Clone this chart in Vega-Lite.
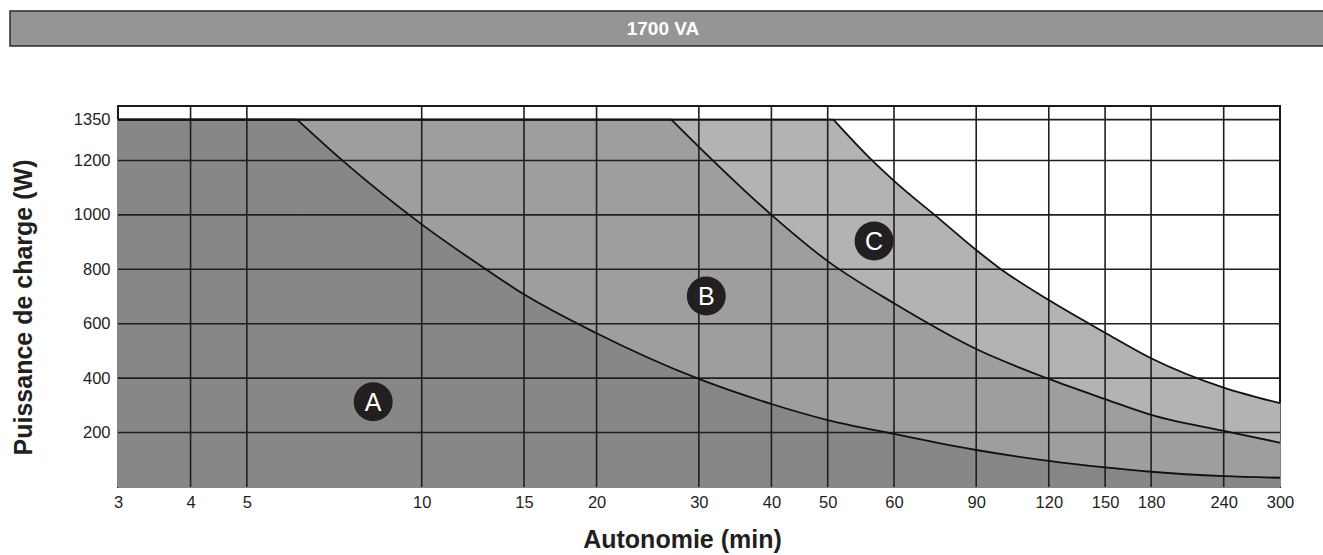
{
  "$schema": "https://vega.github.io/schema/vega-lite/v6.json",
  "padding": {"left": 9, "top": 10, "right": 0, "bottom": 0},
  "background": "white",
  "config": {
    "font": "Liberation Sans",
    "view": {"stroke": null},
    "axisX": {"labelFontSize": 16.5, "labelColor": "#231f20", "labelFont": "Liberation Sans", "titleFont": "Liberation Sans", "titleColor": "#231f20"},
    "axisY": {"labelFontSize": 16.5, "labelColor": "#231f20", "labelFont": "Liberation Sans", "titleFont": "Liberation Sans", "titleColor": "#231f20"}
  },
  "datasets": {
    "curves": [
      {"curve": "A", "seg": "A0", "t": 3, "p": 1350},
      {"curve": "A", "seg": "A0", "t": 6.1, "p": 1350},
      {"curve": "A", "seg": "A1", "t": 6.1, "p": 1350},
      {"curve": "A", "seg": "A1", "t": 7.3, "p": 1200},
      {"curve": "A", "seg": "A1", "t": 10, "p": 965},
      {"curve": "A", "seg": "A1", "t": 12.9, "p": 800},
      {"curve": "A", "seg": "A1", "t": 15, "p": 708},
      {"curve": "A", "seg": "A1", "t": 20, "p": 565},
      {"curve": "A", "seg": "A1", "t": 30, "p": 397},
      {"curve": "A", "seg": "A1", "t": 40, "p": 305},
      {"curve": "A", "seg": "A1", "t": 50, "p": 246},
      {"curve": "A", "seg": "A1", "t": 60, "p": 195},
      {"curve": "A", "seg": "A1", "t": 90, "p": 136},
      {"curve": "A", "seg": "A1", "t": 120, "p": 96},
      {"curve": "A", "seg": "A1", "t": 150, "p": 72},
      {"curve": "A", "seg": "A1", "t": 180, "p": 56},
      {"curve": "A", "seg": "A1", "t": 240, "p": 40},
      {"curve": "A", "seg": "A1", "t": 300, "p": 34},
      {"curve": "B", "seg": "B0", "t": 3, "p": 1350},
      {"curve": "B", "seg": "B0", "t": 26.9, "p": 1350},
      {"curve": "B", "seg": "B1", "t": 26.9, "p": 1350},
      {"curve": "B", "seg": "B1", "t": 30, "p": 1250},
      {"curve": "B", "seg": "B1", "t": 40, "p": 1000},
      {"curve": "B", "seg": "B1", "t": 50, "p": 830},
      {"curve": "B", "seg": "B1", "t": 60, "p": 675},
      {"curve": "B", "seg": "B1", "t": 90, "p": 507},
      {"curve": "B", "seg": "B1", "t": 120, "p": 397},
      {"curve": "B", "seg": "B1", "t": 150, "p": 323},
      {"curve": "B", "seg": "B1", "t": 180, "p": 265},
      {"curve": "B", "seg": "B1", "t": 240, "p": 206},
      {"curve": "B", "seg": "B1", "t": 300, "p": 163},
      {"curve": "C", "seg": "C0", "t": 3, "p": 1350},
      {"curve": "C", "seg": "C0", "t": 50.8, "p": 1350},
      {"curve": "C", "seg": "C1", "t": 50.8, "p": 1350},
      {"curve": "C", "seg": "C1", "t": 56.5, "p": 1200},
      {"curve": "C", "seg": "C1", "t": 60, "p": 1125},
      {"curve": "C", "seg": "C1", "t": 75.8, "p": 979},
      {"curve": "C", "seg": "C1", "t": 90, "p": 871},
      {"curve": "C", "seg": "C1", "t": 98.6, "p": 805},
      {"curve": "C", "seg": "C1", "t": 120, "p": 687},
      {"curve": "C", "seg": "C1", "t": 150, "p": 567},
      {"curve": "C", "seg": "C1", "t": 180, "p": 473},
      {"curve": "C", "seg": "C1", "t": 240, "p": 365},
      {"curve": "C", "seg": "C1", "t": 300, "p": 308}
    ],
    "zones": [
      {"label": "A", "t": 8.25, "p": 313},
      {"label": "B", "t": 30.9, "p": 702},
      {"label": "C", "t": 56.8, "p": 904}
    ]
  },
  "spacing": 57,
  "vconcat": [
    {
      "width": 1320,
      "height": 35,
      "view": {"fill": "#959597", "stroke": "#2b2b2b", "strokeWidth": 1.5},
      "data": {"values": [{"title": "1700 VA"}]},
      "mark": {"type": "text", "font": "Liberation Sans", "fontWeight": "bold", "fontSize": 19, "color": "white", "dx": -7},
      "encoding": {"text": {"field": "title"}}
    },
    {
      "spacing": 34,
      "hconcat": [
        {
          "width": 28,
          "height": 381,
          "data": {"values": [{"title": "Puissance de charge (W)"}]},
          "mark": {"type": "text", "font": "Liberation Sans", "fontWeight": "bold", "fontSize": 25, "color": "#231f20", "angle": 270, "align": "center", "baseline": "middle", "dx": -11},
          "encoding": {"text": {"field": "title"}}
        },
        {
          "width": 1162,
          "height": 381,
          "view": {"stroke": "#1a1a1a", "strokeWidth": 2},
          "layer": [
            {
              "data": {"name": "curves"},
              "transform": [{"filter": "datum.curve === 'C'"}],
              "mark": {"type": "area", "color": "#b3b3b3", "stroke": "#b3b3b3", "strokeWidth": 1, "interpolate": "monotone"},
              "encoding": {
                "x": {"field": "t", "type": "quantitative",
                  "scale": {"type": "log", "domain": [3, 50, 60, 90, 300], "range": [0, 709.7, 776, 858.2, 1162], "nice": false},
                  "axis": {"values": [3, 4, 5, 10, 15, 20, 30, 40, 50, 60, 90, 120, 150, 180, 240, 300], "format": "d", "grid": false, "ticks": false, "domain": false, "labelPadding": 7, "labelFlush": false, "labelOverlap": false, "title": "Autonomie (min)", "titleFontSize": 25, "titleFontWeight": "bold", "titlePadding": 17, "titleX": 564}},
                "y": {"field": "p", "type": "quantitative", "stack": null, "scale": {"domain": [0, 1400], "nice": false, "zero": true},
                  "axis": {"values": [200, 400, 600, 800, 1000, 1200, 1350], "format": "d", "grid": false, "ticks": false, "domain": false, "labelPadding": 8, "labelOverlap": false, "title": null}},
                "detail": {"field": "seg"}
              }
            },
            {
              "data": {"name": "curves"},
              "transform": [{"filter": "datum.curve === 'B'"}],
              "mark": {"type": "area", "color": "#9e9e9e", "stroke": "#9e9e9e", "strokeWidth": 1, "interpolate": "monotone"},
              "encoding": {
                "x": {"field": "t", "type": "quantitative", "title": "Autonomie (min)"},
                "y": {"field": "p", "type": "quantitative", "stack": null, "title": null},
                "detail": {"field": "seg"}
              }
            },
            {
              "data": {"name": "curves"},
              "transform": [{"filter": "datum.curve === 'A'"}],
              "mark": {"type": "area", "color": "#878787", "stroke": "#878787", "strokeWidth": 1, "interpolate": "monotone"},
              "encoding": {
                "x": {"field": "t", "type": "quantitative", "title": "Autonomie (min)"},
                "y": {"field": "p", "type": "quantitative", "stack": null, "title": null},
                "detail": {"field": "seg"}
              }
            },
            {
              "data": {"values": [{"t": 4}, {"t": 5}, {"t": 10}, {"t": 15}, {"t": 20}, {"t": 30}, {"t": 40}, {"t": 50}, {"t": 60}, {"t": 90}, {"t": 120}, {"t": 150}, {"t": 180}, {"t": 240}]},
              "mark": {"type": "rule", "color": "#1f1f1f", "strokeWidth": 1.6},
              "encoding": {"x": {"field": "t", "type": "quantitative", "title": "Autonomie (min)"}}
            },
            {
              "data": {"values": [{"p": 200}, {"p": 400}, {"p": 600}, {"p": 800}, {"p": 1000}, {"p": 1200}, {"p": 1350}]},
              "mark": {"type": "rule", "color": "#1f1f1f", "strokeWidth": 1.6},
              "encoding": {"y": {"field": "p", "type": "quantitative", "title": null}}
            },
            {
              "data": {"name": "curves"},
              "mark": {"type": "line", "color": "#111111", "strokeWidth": 1.8, "interpolate": "monotone"},
              "encoding": {
                "x": {"field": "t", "type": "quantitative", "title": "Autonomie (min)"},
                "y": {"field": "p", "type": "quantitative", "title": null},
                "detail": {"field": "seg"}
              }
            },
            {
              "data": {"name": "zones"},
              "mark": {"type": "point", "shape": "circle", "filled": true, "size": 1520, "color": "#231f20", "opacity": 1},
              "encoding": {
                "x": {"field": "t", "type": "quantitative", "title": "Autonomie (min)"},
                "y": {"field": "p", "type": "quantitative", "title": null}
              }
            },
            {
              "data": {"name": "zones"},
              "mark": {"type": "text", "color": "white", "fontSize": 25, "font": "Liberation Sans", "align": "center", "baseline": "middle", "dy": 1},
              "encoding": {
                "x": {"field": "t", "type": "quantitative", "title": "Autonomie (min)"},
                "y": {"field": "p", "type": "quantitative", "title": null},
                "text": {"field": "label"}
              }
            }
          ]
        }
      ]
    }
  ]
}
